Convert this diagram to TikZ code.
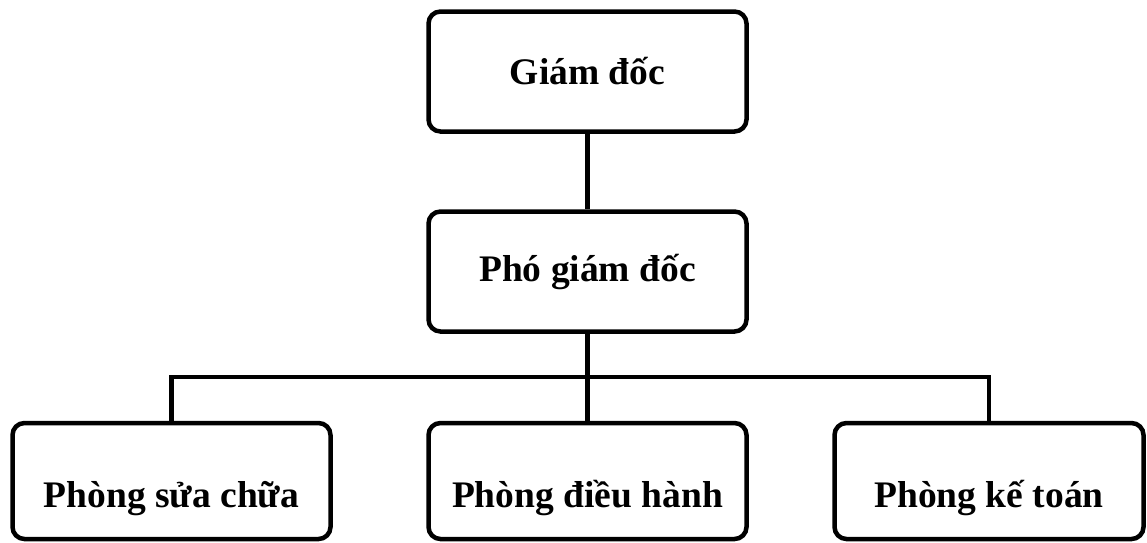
\documentclass[tikz,border=0pt]{standalone}
\usepackage{fontspec}
\setmainfont{Liberation Serif}
\usetikzlibrary{shadows}
\begin{document}
\begin{tikzpicture}[x=1pt,y=-1pt]
	% Style for the boxes
	\tikzset{box/.style={
			draw=black, % black border
			line width=4.5pt, % thick border
			rounded corners=12pt, % round corners
			fill=white, % white fill
			drop shadow={shadow xshift=1.5pt,shadow yshift=-1.5pt,fill=gray!45}, % light shadow
			minimum width=318pt, % box width
			minimum height=120pt, % box height
			font=\fontsize{37.5}{42}\selectfont\bfseries, % text size
			align=center % centre text
	}}
	\tikzset{lowbox/.style={box,minimum height=116pt,text height=60pt,text depth=8pt}} % text sits lower
	\tikzset{link/.style={draw=black,line width=4.5pt}}
	\useasboundingbox (0,0) rectangle (1147,542);
	
	% Boxes
	\node[box] (gd) at (587.5,71.5) {Giám đốc};
	\node[box] (pgd) at (587.5,271.5) {Phó giám đốc};
	\node[lowbox] (psc) at (171.5,481) {Phòng sửa chữa};
	\node[lowbox] (pdh) at (587.5,481) {Phòng điều hành};
	\node[lowbox,minimum width=309pt] (pkt) at (989,481) {Phòng kế toán};
	
	% Connectors
	\coordinate (split) at (587.5,377);
	\draw[link] (gd) -- (pgd);
	\draw[link] (pgd) -- (split) -- (pdh);
	\draw[link] (psc.north) |- (split) -| (pkt.north);
\end{tikzpicture}
\end{document}
